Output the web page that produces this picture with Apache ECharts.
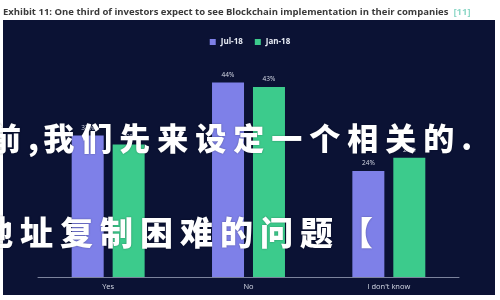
<!DOCTYPE html>
<html>
<head>
<meta charset="utf-8">
<script src="https://cdn.jsdelivr.net/npm/echarts@6/dist/echarts.min.js"></script>
<style>
  html, body { margin: 0; padding: 0; background: #ffffff; }
  #chart { width: 500px; height: 300px; }
</style>
</head>
<body>
<div id="chart"></div>
<script>
// Survey answers and shares per survey wave
const categories = ['Yes', 'No', "I don't know"];
const jul18 = [32, 44, 24];
const jan18 = [30, 43, 27];
const seriesNames = ['Jul-18', 'Jan-18'];

const titleText = 'Exhibit 11: One third of investors expect to see Blockchain implementation in their companies';
const titleRef = '[11]';

// Overlaid caption lines
const captionLine1 = '前,我们先来设定一个相关的.';
const captionLine2 = '地址复制困难的问题【';

const PANEL = '#0b1234';
const BLUE = '#7e80e8';
const GREEN = '#3ccb8c';

function captionChars(text, startX, centerY, advance, size) {
  const out = [];
  let x = startX;
  for (const ch of text) {
    out.push({
      type: 'text',
      z: 100,
      left: x,
      top: centerY - size / 2,
      style: {
        text: ch,
        fill: '#ffffff',
        font: '900 ' + size + 'px "Noto Sans CJK SC"',
        textShadowColor: 'rgba(0,0,0,0.35)',
        textShadowBlur: 2
      }
    });
    x += (ch === ',' || ch === '.') ? advance * 0.4 : advance;
  }
  return out;
}

const chart = echarts.init(document.getElementById('chart'), null, { renderer: 'canvas' });

const option = {
  backgroundColor: '#ffffff',
  animation: false,
  title: {
    text: '{t|' + titleText + '} {r|' + titleRef + '}',
    left: 3,
    top: 3,
    padding: 0,
    textStyle: {
      rich: {
        t: { fontFamily: 'Open Sans', fontSize: 9.5, fontWeight: 'bold', color: '#3a3a3a' },
        r: { fontFamily: 'Open Sans', fontSize: 9.5, color: '#8fd8c8' }
      }
    }
  },
  legend: {
    data: seriesNames,
    top: 33,
    left: 'center',
    icon: 'rect',
    itemWidth: 6,
    itemHeight: 6,
    itemGap: 12,
    textStyle: { color: '#e8ecf5', fontSize: 8, fontWeight: 'bold', fontFamily: 'Open Sans' }
  },
  grid: { left: 38, right: 41, top: 56, bottom: 23, containLabel: false },
  xAxis: {
    type: 'category',
    data: categories,
    axisLine: { lineStyle: { color: '#7c839c', width: 1 } },
    axisTick: { show: false },
    axisLabel: { color: '#d8dce8', fontSize: 7.5, fontFamily: 'Open Sans', margin: 6 }
  },
  yAxis: {
    type: 'value',
    min: 0,
    max: 50,
    show: false,
    splitLine: { show: false }
  },
  series: [
    {
      name: seriesNames[0],
      type: 'bar',
      data: jul18,
      barWidth: 32,
      barGap: '28%',
      itemStyle: { color: BLUE },
      label: {
        show: true, position: 'top', distance: 4,
        formatter: '{c}%', color: '#d8dce8', fontSize: 6.5, fontFamily: 'Open Sans'
      }
    },
    {
      name: seriesNames[1],
      type: 'bar',
      data: jan18,
      barWidth: 32,
      barGap: '28%',
      itemStyle: { color: GREEN },
      label: {
        show: true, position: 'top', distance: 4,
        formatter: '{c}%', color: '#d8dce8', fontSize: 6.5, fontFamily: 'Open Sans'
      }
    }
  ],
  graphic: [
    {
      type: 'rect',
      z: -10,
      silent: true,
      shape: { x: 3, y: 20, width: 492, height: 275 },
      style: { fill: PANEL }
    }
  ].concat(
    captionChars(captionLine1, -10, 138, 38, 31),
    captionChars(captionLine2, -20, 232, 40, 33)
  )
};

chart.setOption(option);
</script>
</body>
</html>
